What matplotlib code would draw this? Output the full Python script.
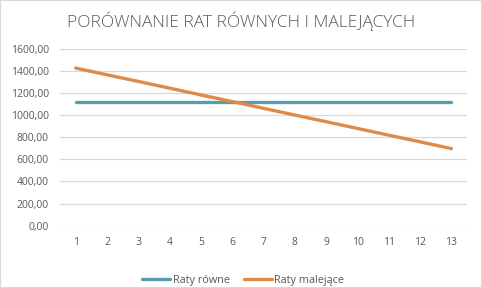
import matplotlib.pyplot as plt
from matplotlib.ticker import FuncFormatter

# dane
raty = [1, 2, 3, 4, 5, 6, 7, 8, 9, 10, 11, 12, 13]
raty_rowne = [1120, 1120, 1120, 1120, 1120, 1120, 1120, 1120, 1120, 1120, 1120, 1120, 1120]
raty_malejace = [1425, 1364, 1304, 1243, 1182, 1122, 1061, 1000, 940, 879, 818, 758, 697]
y_ticks = [0, 200, 400, 600, 800, 1000, 1200, 1400, 1600]

plt.rcParams['font.family'] = ['Open Sans', 'DejaVu Sans']
szary = '#595959'

fig = plt.figure(figsize=(4.82, 2.88), dpi=100)
ax = fig.add_axes([0.1245, 0.2163, 0.8445, 0.6147])

ax.plot(raty, raty_rowne, color='#5B9BAF', lw=2.4, label='Raty równe', solid_capstyle='round')
ax.plot(raty, raty_malejace, color='#E08A45', lw=2.4, label='Raty malejące', solid_capstyle='round')

ax.set_xlim(0.5, 13.5)
ax.set_ylim(0, 1600)
ax.set_xticks(raty)
ax.set_yticks(y_ticks)
ax.yaxis.set_major_formatter(FuncFormatter(lambda v, p: f"{v:.2f}".replace('.', ',')))
ax.grid(axis='y', color='#D9D9D9', lw=0.9)
ax.set_axisbelow(True)
for s in ax.spines.values():
    s.set_visible(False)
ax.tick_params(length=0, labelsize=7.5, colors=szary, pad=8)

fig.text(0.5, 0.925, 'PORÓWNANIE RAT RÓWNYCH I MALEJĄCYCH', ha='center', va='center',
         fontsize=12.5, color=szary, fontweight='light')

ax.legend(loc='center', bbox_to_anchor=(0.45, -0.31), ncol=2, frameon=False,
          fontsize=7.8, labelcolor=szary, handlelength=2.6, columnspacing=1.3, handletextpad=0.2)

fig.patches.append(plt.Rectangle((0, 0), 1, 1, transform=fig.transFigure, fill=False,
                                 edgecolor='#D9D9D9', lw=1.5))

plt.savefig('out.png', dpi=100)
